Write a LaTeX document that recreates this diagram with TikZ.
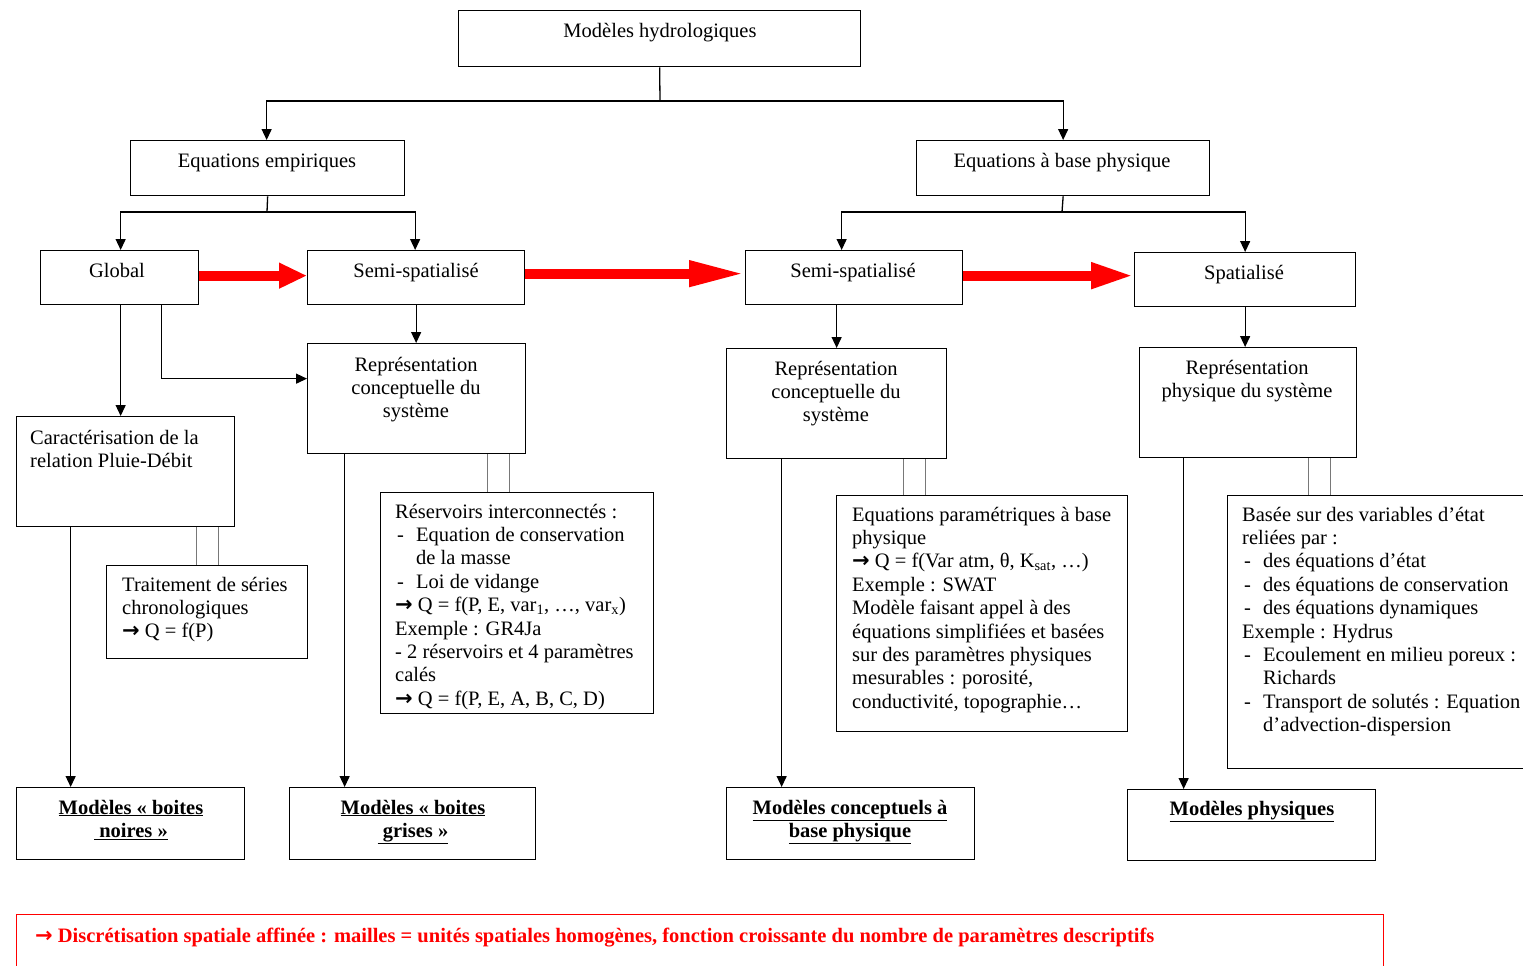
\documentclass[tikz,border=0pt]{standalone}
\usepackage{fontspec}
\setmainfont{Liberation Serif}
\newfontfamily\arrowfont{DejaVu Sans}
\usetikzlibrary{arrows.meta,calc}
\newcommand\diagfont{\fontsize{20.5}{23.4}\selectfont}
\newcommand\itm[1]{\makebox[21pt][l]{\hspace{2pt}-}#1}
\newcommand\cont{\hspace*{21pt}}
\newcommand\rarr{{\arrowfont\bfseries\fontsize{21}{21}\selectfont →}}
\newcommand\rarrb{{\arrowfont\bfseries\fontsize{21}{21}\selectfont →}}
\definecolor{dblgray}{RGB}{120,120,120}
\begin{document}
\begin{tikzpicture}[x=1pt,y=-1pt,
  box/.style={draw=black, line width=1.3pt, inner sep=0pt, anchor=north west},
  redbox/.style={draw=red, line width=1.3pt, inner sep=0pt, anchor=north west},
  txt/.style={inner sep=0pt, font=\diagfont},
  ln/.style={line width=1.3pt},
  arr/.style={line width=1.3pt, -{Triangle[length=11pt,width=10pt]}},
  dbl/.style={line width=1.4pt, draw=dblgray},
  bigred/.style={draw=red, line width=10pt}
]
\useasboundingbox (0,0) rectangle (1523,966);
\fill[white] (0,0) rectangle (1523,966);

% boxes
\node[box, minimum width=402pt, minimum height=56pt] (top) at (458,10) {};
\node[box, minimum width=274pt, minimum height=55pt] (emp) at (130,140) {};
\node[box, minimum width=293pt, minimum height=55pt] (phys) at (916,140) {};
\node[box, minimum width=158pt, minimum height=54pt] (global) at (40,250) {};
\node[box, minimum width=217pt, minimum height=54pt] (semi1) at (307,250) {};
\node[box, minimum width=217pt, minimum height=54pt] (semi2) at (745,250) {};
\node[box, minimum width=221pt, minimum height=54pt] (spat) at (1134,252) {};
\node[box, minimum width=218pt, minimum height=110pt] (rep1) at (307,343) {};
\node[box, minimum width=220pt, minimum height=110pt] (rep2) at (726,348) {};
\node[box, minimum width=217pt, minimum height=110pt] (rep3) at (1139,347) {};
\node[box, minimum width=218pt, minimum height=110pt] (caract) at (16,416) {};
\node[box, minimum width=201pt, minimum height=93pt] (trait) at (106,565) {};
\node[box, minimum width=273pt, minimum height=221pt] (res) at (380,492) {};
\node[box, minimum width=291pt, minimum height=236pt] (param) at (836,495) {};
\node[box, minimum width=310pt, minimum height=273pt] (basee) at (1227,495) {};
\node[box, minimum width=228pt, minimum height=72pt] (noires) at (16,787) {};
\node[box, minimum width=246pt, minimum height=72pt] (grises) at (289,787) {};
\node[box, minimum width=248pt, minimum height=72pt] (concept) at (726,787) {};
\node[box, minimum width=248pt, minimum height=71pt] (physm) at (1127,789) {};
\node[redbox, minimum width=1367pt, minimum height=80pt] (note) at (16,914) {};

% texts
\node[txt, anchor=base] (ttop) at (660,38) {Modèles hydrologiques};
\node[txt, anchor=base] (temp) at (267,167) {Equations empiriques};
\node[txt, anchor=base] (tphys) at (1062,167) {Equations à base physique};
\node[txt, anchor=base] (tglobal) at (117,277) {Global};
\node[txt, anchor=base] (tsemi1) at (416,277) {Semi-spatialisé};
\node[txt, anchor=base] (tsemi2) at (853,277) {Semi-spatialisé};
\node[txt, anchor=base] (tspat) at (1244,279) {Spatialisé};
\node[txt, anchor=base] (trep1) at (416,371) {\parbox[t]{210pt}{\centering Représentation\\conceptuelle du\\système}};
\node[txt, anchor=base] (trep2) at (836,375) {\parbox[t]{210pt}{\centering Représentation\\conceptuelle du\\système}};
\node[txt, anchor=base] (trep3) at (1247,374) {\parbox[t]{210pt}{\centering Représentation\\physique du système}};
\node[txt, anchor=base west] (tcaract) at (30,444) {\parbox[t]{200pt}{\raggedright Caractérisation de la\\relation Pluie-Débit}};
\node[txt, anchor=base west] (ttrait) at (122,591) {\parbox[t]{190pt}{\raggedright Traitement de séries\\chronologiques\\\rarr{} Q = f(P)}};
\node[txt, anchor=base west] (tres) at (395,518) {\parbox[t]{260pt}{\raggedright Réservoirs interconnectés :\\
\itm{Equation de conservation}\\
\cont de la masse\\
\itm{Loi de vidange}\\
\rarr{} Q = f(P, E, var\textsubscript{1}, …, var\textsubscript{x})\\
Exemple : GR4Ja\\
- 2 réservoirs et 4 paramètres\\
calés\\
\rarr{} Q = f(P, E, A, B, C, D)}};
\node[txt, anchor=base west] (tparam) at (852,521) {\parbox[t]{280pt}{\raggedright Equations paramétriques à base\\
physique\\
\rarr{} Q = f(Var atm, θ, K\textsubscript{sat}, …)\\
Exemple : SWAT\\
Modèle faisant appel à des\\
équations simplifiées et basées\\
sur des paramètres physiques\\
mesurables : porosité,\\
conductivité, topographie…}};
\node[txt, anchor=base west] (tbasee) at (1242,521) {\parbox[t]{290pt}{\raggedright Basée sur des variables d’état\\
reliées par :\\
\itm{des équations d’état}\\
\itm{des équations de conservation}\\
\itm{des équations dynamiques}\\
Exemple : Hydrus\\
\itm{Ecoulement en milieu poreux :}\\
\cont Richards\\
\itm{Transport de solutés : Equation}\\
\cont d’advection-dispersion}};
\node[txt, anchor=base, font=\diagfont\bfseries] (tnoires) at (131,814) {\parbox[t]{220pt}{\centering\underline{Modèles « boites}\\\underline{\ noires »}}};
\node[txt, anchor=base, font=\diagfont\bfseries] (tgrises) at (413,814) {\parbox[t]{220pt}{\centering\underline{Modèles « boites}\\\underline{\ grises »}}};
\node[txt, anchor=base, font=\diagfont\bfseries] (tconcept) at (850,814) {\parbox[t]{240pt}{\centering\underline{Modèles conceptuels à}\\\underline{base physique}}};
\node[txt, anchor=base, font=\diagfont\bfseries] (tphysm) at (1252,815) {\underline{Modèles physiques}};
\node[txt, anchor=base west, font=\diagfont\bfseries, text=red] (tnote) at (35,942) {\rarrb{} Discrétisation spatiale affinée : mailles = unités spatiales homogènes, fonction croissante du nombre de paramètres descriptifs};

% tree connectors
\coordinate (j0) at (660,101);
\draw[ln] (top.south) -- (j0);
\draw[arr] (j0) -| ([xshift=-1pt]emp.north);
\draw[arr] (j0) -| (phys.north);
\coordinate (j1) at (267,212);
\draw[ln] (emp.south) -- (j1);
\draw[arr] (j1) -| ([xshift=1pt]global.north);
\draw[arr] (j1) -| ([xshift=-1pt]semi1.north);
\coordinate (j2) at (1062,212);
\draw[ln] (phys.south) -- (j2);
\draw[arr] (j2) -| ([xshift=-12.5pt]semi2.north);
\draw[arr] (j2) -| (spat.north);

% red progression arrows
\draw[bigred, -{Triangle[length=28pt,width=24pt]}] ([yshift=2pt]global.east) -- ([yshift=2pt]global.east -| semi1.west);
\draw[bigred, -{Triangle[length=56pt,width=24pt]}] ([yshift=4pt]semi1.east) -- ([yshift=4pt]semi1.east -| semi2.west);
\draw[bigred, -{Triangle[length=43pt,width=24pt]}] ([yshift=2pt]semi2.east) -- ([yshift=2pt]semi2.east -| spat.west);

% descending links
\draw[arr] ([xshift=1pt]global.south) -- ([xshift=1pt]global.south |- caract.north);
\draw[arr] ([xshift=42pt]global.south) |- ([yshift=20pt]rep1.west);
\draw[arr] (semi1.south) -- (semi1.south |- rep1.north);
\draw[arr] (rep2.north |- semi2.south) -- (rep2.north);
\draw[arr] (spat.south) -- (spat.south |- rep3.north);

\draw[arr] ([xshift=-55pt]caract.south) -- ([xshift=-55pt]caract.south |- noires.north);
\draw[arr] ([xshift=-72pt]rep1.south) -- ([xshift=-72pt]rep1.south |- grises.north);
\draw[arr] ([xshift=-55pt]rep2.south) -- ([xshift=-55pt]rep2.south |- concept.north);
\draw[arr] ([xshift=-64.5pt]rep3.south) -- ([xshift=-64.5pt]rep3.south |- physm.north);

% double links
\foreach \d in {71,93} {
  \draw[dbl] ([xshift=\d pt]caract.south) -- ([xshift=\d pt]caract.south |- trait.north);
  \draw[dbl] ([xshift=\d pt]rep1.south) -- ([xshift=\d pt]rep1.south |- res.north);
}
\foreach \d in {67,89} {
  \draw[dbl] ([xshift=\d pt]rep2.south) -- ([xshift=\d pt]rep2.south |- param.north);
}
\foreach \d in {60.5,82.5} {
  \draw[dbl] ([xshift=\d pt]rep3.south) -- ([xshift=\d pt]rep3.south |- basee.north);
}
\end{tikzpicture}
\end{document}
